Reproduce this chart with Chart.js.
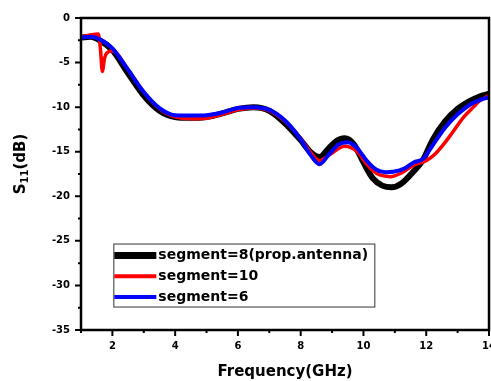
<!DOCTYPE html>
<html>
<head>
<meta charset="utf-8">
<script src="https://cdn.jsdelivr.net/npm/chart.js@4.4.0/dist/chart.umd.min.js"></script>
<style>
  body { margin: 0; background: #fff; }
  canvas { display: block; }
</style>
</head>
<body>
<canvas id="chart" width="491" height="381"></canvas>
<script>
// values
var seriesNames = ["segment=8(prop.antenna)", "segment=10", "segment=6"];

var freqSeg8 = [1.0, 1.3, 1.6, 2.0, 2.5, 3.0, 3.5, 4.0, 4.5, 5.0, 5.5, 6.0, 6.5, 7.0, 7.5, 8.0, 8.3, 8.6, 8.9, 9.1, 9.4, 9.7, 10.0, 10.3, 10.6, 10.9, 11.2, 11.6, 11.9, 12.2, 12.6, 13.0, 13.4, 13.7, 14.0];
var s11Seg8 = [-2.2, -2.1, -2.5, -3.6, -6.2, -8.7, -10.4, -11.1, -11.2, -11.1, -10.7, -10.2, -10.0, -10.4, -11.8, -13.7, -15.0, -15.6, -14.6, -13.9, -13.5, -14.2, -16.2, -18.0, -18.8, -19.0, -18.6, -17.2, -15.9, -13.7, -11.6, -10.2, -9.3, -8.8, -8.5];

var freqSeg10 = [1.0, 1.3, 1.55, 1.62, 1.68, 1.75, 1.83, 2.0, 2.5, 3.0, 3.5, 4.0, 4.5, 5.0, 5.5, 6.0, 6.5, 7.0, 7.5, 8.0, 8.3, 8.6, 8.9, 9.4, 9.8, 10.1, 10.4, 10.85, 11.2, 11.6, 12.0, 12.3, 12.7, 13.2, 13.5, 13.7, 14.0];
var s11Seg10 = [-2.1, -1.9, -1.8, -3.5, -6.0, -4.5, -3.9, -3.7, -5.8, -8.3, -10.2, -11.1, -11.3, -11.25, -10.8, -10.3, -10.1, -10.4, -11.6, -13.5, -15.0, -16.0, -15.4, -14.4, -15.0, -16.4, -17.4, -17.8, -17.4, -16.5, -16.0, -15.2, -13.5, -11.1, -10.0, -9.3, -8.7];

var freqSeg6 = [1.0, 1.3, 1.6, 2.0, 2.5, 3.0, 3.5, 4.0, 4.5, 5.0, 5.5, 6.0, 6.5, 7.0, 7.5, 8.0, 8.3, 8.6, 8.9, 9.2, 9.5, 9.8, 10.1, 10.4, 10.7, 10.95, 11.3, 11.6, 11.9, 12.2, 12.6, 13.0, 13.4, 13.7, 14.0];
var s11Seg6 = [-2.2, -2.1, -2.4, -3.4, -5.8, -8.3, -10.1, -10.9, -10.95, -10.9, -10.6, -10.1, -10.0, -10.3, -11.5, -13.6, -15.3, -16.4, -15.3, -14.2, -13.95, -14.6, -16.0, -17.0, -17.3, -17.25, -16.9, -16.2, -15.8, -14.3, -12.3, -10.8, -9.7, -9.2, -8.9];

var xTickLabels = [2, 4, 6, 8, 10, 12, 14];
var yTickLabels = [0, -5, -10, -15, -20, -25, -30, -35];

var colors = ["#000000", "#ff0000", "#0000ff"];
var widths = [6, 3.5, 4];
var boldFont = "DejaVu Sans";

function points(xs, ys) {
  return xs.map(function (x, i) {
    return { x: x, y: ys[i] };
  });
}

// frame, tick marks, legend box and the y title with its subscript
var decorations = {
  id: "decorations",
  afterDraw: function (chart) {
    var ctx = chart.ctx;
    var area = chart.chartArea;
    var xs = chart.scales.x;
    var ys = chart.scales.y;
    ctx.save();
    ctx.strokeStyle = "#000";
    ctx.lineWidth = 2.5;
    ctx.strokeRect(area.left, area.top, area.right - area.left, area.bottom - area.top);

    ctx.lineWidth = 2;
    ctx.beginPath();
    xTickLabels.forEach(function (v) {
      var px = xs.getPixelForValue(v);
      ctx.moveTo(px, area.bottom);
      ctx.lineTo(px, area.bottom + 6);
      var mx = xs.getPixelForValue(v - 1);
      ctx.moveTo(mx, area.bottom);
      ctx.lineTo(mx, area.bottom + 3);
    });
    yTickLabels.forEach(function (v, i) {
      var py = ys.getPixelForValue(v);
      ctx.moveTo(area.left, py);
      ctx.lineTo(area.left - 6, py);
      if (i > 0) {
        var my = ys.getPixelForValue((v + yTickLabels[i - 1]) / 2);
        ctx.moveTo(area.left, my);
        ctx.lineTo(area.left - 3, my);
      }
    });
    ctx.stroke();

    // legend
    var lx = xs.getPixelForValue(2.03);
    var ly = ys.getPixelForValue(-25.3);
    ctx.lineWidth = 1;
    ctx.strokeStyle = "#333";
    ctx.strokeRect(lx + 0.5, ly + 0.5, 261, 63);
    ctx.font = "bold 14px '" + boldFont + "'";
    ctx.textBaseline = "middle";
    ctx.fillStyle = "#000";
    seriesNames.forEach(function (name, i) {
      var rowY = ly + 12 + i * 20.7;
      ctx.beginPath();
      ctx.strokeStyle = colors[i];
      ctx.lineWidth = i === 0 ? 7 : 4;
      ctx.moveTo(lx + 1, rowY);
      ctx.lineTo(lx + 43, rowY);
      ctx.stroke();
      ctx.fillText(name, lx + 45, rowY);
    });

    // x title
    ctx.font = "bold 15px '" + boldFont + "'";
    ctx.textAlign = "center";
    ctx.textBaseline = "middle";
    ctx.fillText("Frequency(GHz)", 285, 372);

    // y title S11(dB)
    ctx.translate(21, (area.top + area.bottom) / 2 - 10);
    ctx.rotate(-Math.PI / 2);
    ctx.textAlign = "left";
    ctx.textBaseline = "middle";
    var big = "bold 15px '" + boldFont + "'";
    var small = "bold 10px '" + boldFont + "'";
    ctx.font = big;
    var wS = ctx.measureText("S").width;
    var wB = ctx.measureText("(dB)").width;
    ctx.font = small;
    var wSub = ctx.measureText("11").width;
    var start = -(wS + wSub + wB) / 2;
    ctx.font = big;
    ctx.fillText("S", start, 0);
    ctx.font = small;
    ctx.fillText("11", start + wS, 4);
    ctx.font = big;
    ctx.fillText("(dB)", start + wS + wSub, 0);
    ctx.restore();
  },
};

var tickFont = { family: boldFont, weight: "bold", size: 10 };

var chart = new Chart(document.getElementById("chart"), {
  type: "line",
  data: {
    datasets: [
      { label: seriesNames[0], data: points(freqSeg8, s11Seg8), order: 3 },
      { label: seriesNames[1], data: points(freqSeg10, s11Seg10), order: 2 },
      { label: seriesNames[2], data: points(freqSeg6, s11Seg6), order: 1 },
    ].map(function (ds, i) {
      ds.borderColor = colors[i];
      ds.borderWidth = widths[i];
      ds.pointRadius = 0;
      ds.fill = false;
      ds.cubicInterpolationMode = "monotone";
      return ds;
    }),
  },
  options: {
    responsive: false,
    animation: false,
    devicePixelRatio: 1,
    layout: { padding: { top: 18, right: 2, left: 0, bottom: 0 } },
    plugins: { legend: { display: false }, tooltip: { enabled: false } },
    scales: {
      x: {
        type: "linear",
        min: 1,
        max: 14,
        afterBuildTicks: function (scale) {
          scale.ticks = xTickLabels.map(function (v) { return { value: v }; });
        },
        afterFit: function (scale) {
          scale.height = 51;
          // let the last label run off the edge like the original
          scale.paddingLeft = 0;
          scale.paddingRight = 0;
        },
        grid: { display: false, drawTicks: false },
        border: { display: false },
        ticks: { font: tickFont, color: "#000", padding: 10, maxRotation: 0, autoSkip: false },
      },
      y: {
        min: -35,
        max: 0,
        afterBuildTicks: function (scale) {
          scale.ticks = yTickLabels.map(function (v) { return { value: v }; });
        },
        afterFit: function (scale) {
          scale.width = 81;
          scale.paddingTop = 0;
          scale.paddingBottom = 0;
        },
        grid: { display: false, drawTicks: false },
        border: { display: false },
        ticks: { font: tickFont, color: "#000", padding: 11, autoSkip: false },
      },
    },
  },
  plugins: [decorations],
});
</script>
</body>
</html>
